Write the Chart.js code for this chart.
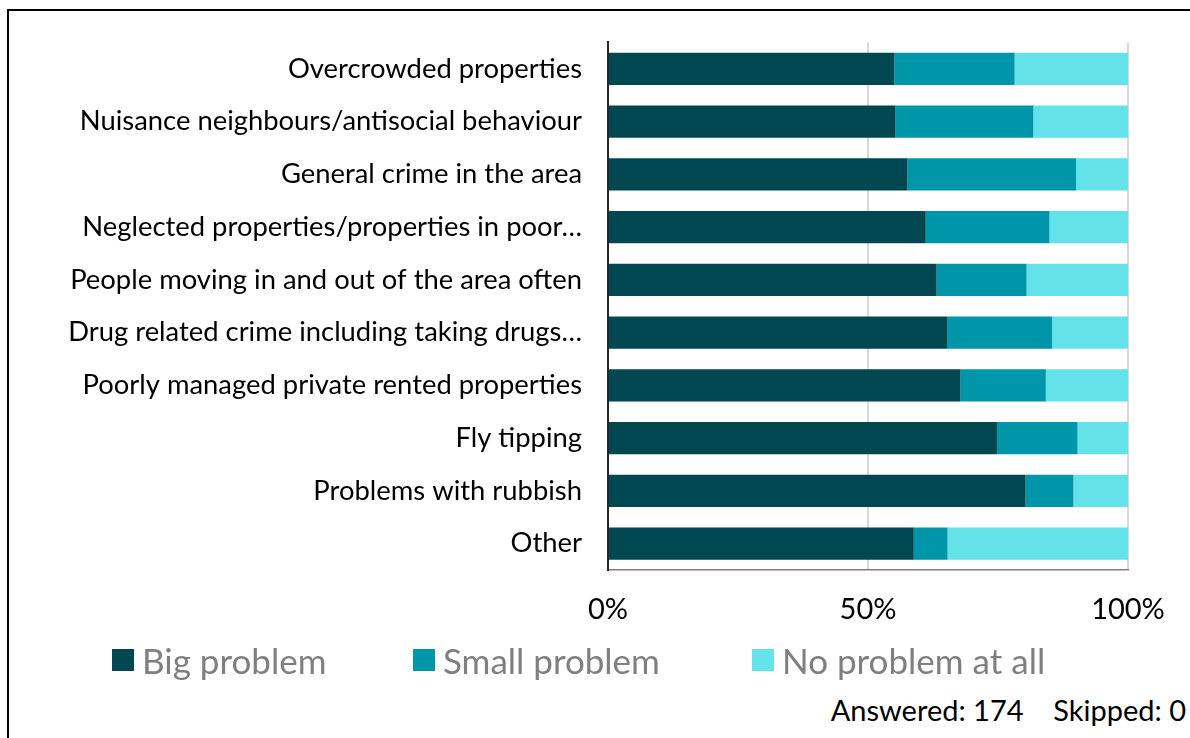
<!DOCTYPE html>
<html>
<head>
<meta charset="utf-8">
<script src="https://cdn.jsdelivr.net/npm/chart.js@4.4.1/dist/chart.umd.min.js"></script>
<style>
  html, body { margin: 0; padding: 0; background: #fff; overflow: hidden; }
  #wrap { position: relative; width: 1190px; height: 738px; overflow: hidden; font-family: Lato, "Noto Sans", sans-serif; }
  #frame { position: absolute; left: 7px; top: 9px; width: 1300px; height: 900px; border: 2px solid #000; box-sizing: border-box; }
  #chart { position: absolute; left: 0; top: 0; }
  #legend { position: absolute; left: 0; top: 638px; width: 1190px; height: 44px; }
  .item { position: absolute; top: 0; height: 44px; display: flex; align-items: center; color: #7f7f7f; font-size: 35px; white-space: nowrap; }
  .swatch { width: 22px; height: 22px; margin-right: 8px; }
  #note { position: absolute; right: 4px; top: 692px; font-size: 29px; color: #000; white-space: pre; }
</style>
</head>
<body>
<div id="wrap">
  <div id="frame"></div>
  <canvas id="chart" width="1190" height="640"></canvas>
  <div id="legend"></div>
  <div id="note">Answered: 174    Skipped: 0</div>
</div>
<script>
// Survey: how much of a problem is each issue in the area (percent of respondents)
const categories = [
  'Overcrowded properties',
  'Nuisance neighbours/antisocial behaviour',
  'General crime in the area',
  'Neglected properties/properties in poor\u2026',
  'People moving in and out of the area often',
  'Drug related crime including taking drugs\u2026',
  'Poorly managed private rented properties',
  'Fly tipping',
  'Problems with rubbish',
  'Other'
];
const seriesNames = ['Big problem', 'Small problem', 'No problem at all'];
const bigProblem   = [55.1, 55.3, 57.6, 61.1, 63.2, 65.2, 67.8, 74.8, 80.3, 58.8];
const smallProblem = [23.1, 26.5, 32.4, 23.8, 17.3, 20.2, 16.4, 15.5,  9.2,  6.5];
const noProblem    = [21.8, 18.2, 10.0, 15.1, 19.5, 14.6, 15.8,  9.7, 10.5, 34.7];
const xTicks = [0, 50, 100];
const seriesColors = ['#004752', '#0096aa', '#63e2ea'];

const seriesValues = [bigProblem, smallProblem, noProblem];
const datasets = seriesNames.map((name, i) => ({
  label: name,
  data: seriesValues[i],
  backgroundColor: seriesColors[i],
  borderWidth: 0,
  categoryPercentage: 1,
  barPercentage: 0.61
}));

new Chart(document.getElementById('chart'), {
  type: 'bar',
  data: { labels: categories, datasets },
  options: {
    indexAxis: 'y',
    responsive: false,
    animation: false,
    layout: { padding: { left: 0, right: 62, top: 42, bottom: 0 } },
    plugins: { legend: { display: false }, tooltip: { enabled: false } },
    scales: {
      x: {
        stacked: true,
        min: 0,
        max: 100,
        afterBuildTicks: (scale) => { scale.ticks = xTicks.map(v => ({ value: v })); },
        ticks: {
          callback: (v) => v + '%',
          color: '#000',
          font: { family: 'Lato', size: 29 },
          padding: 22,
          maxRotation: 0
        },
        grid: { color: '#d9d9d9', lineWidth: 2, drawTicks: false },
        border: { display: true, color: '#7f7f7f', width: 1.5 },
        afterFit: (scale) => { scale.height = 70; }
      },
      y: {
        stacked: true,
        ticks: { color: '#000', font: { family: 'Lato', size: 27.4 }, padding: 26, autoSkip: false },
        grid: { display: false, drawTicks: false },
        border: { display: true, color: '#262626', width: 2 },
        afterFit: (scale) => { scale.width = 608; }
      }
    }
  }
});

// Legend row below the plot
const legendPos = [112, 413, 752];
const legend = document.getElementById('legend');
seriesNames.forEach((name, i) => {
  const item = document.createElement('div');
  item.className = 'item';
  item.style.left = legendPos[i] + 'px';
  const sw = document.createElement('span');
  sw.className = 'swatch';
  sw.style.background = seriesColors[i];
  const tx = document.createElement('span');
  tx.textContent = name;
  item.appendChild(sw);
  item.appendChild(tx);
  legend.appendChild(item);
});
</script>
</body>
</html>
